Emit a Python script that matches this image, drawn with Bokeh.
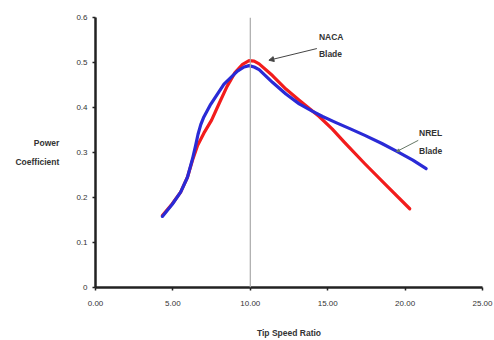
from bokeh.plotting import figure
from bokeh.models import Range1d, FixedTicker, Span, Label, Arrow, NormalHead
from bokeh.embed import file_html
from bokeh.resources import INLINE

# Tip speed ratio / power coefficient readings
naca_tsr = [4.32, 4.96, 5.50, 5.94, 6.26, 6.6, 7.0, 7.5, 8.0, 8.5, 9.0, 9.5, 9.92, 10.25, 10.57, 11.43, 12.3, 13.16, 14.45, 15.3, 16.1, 17.4, 18.9, 20.3]
naca_cp = [0.160, 0.186, 0.212, 0.245, 0.282, 0.316, 0.343, 0.372, 0.41, 0.447, 0.477, 0.496, 0.504, 0.503, 0.497, 0.471, 0.441, 0.416, 0.38, 0.352, 0.322, 0.275, 0.223, 0.175]

nrel_tsr = [4.32, 4.96, 5.50, 5.94, 6.26, 6.47, 6.62, 6.8, 7.0, 7.44, 8.3, 9.17, 9.6, 9.92, 10.25, 10.57, 11.43, 12.3, 13.16, 14.0, 14.67, 15.5, 16.5, 17.4, 18.5, 19.5, 20.5, 21.36]
nrel_cp = [0.158, 0.185, 0.212, 0.245, 0.285, 0.316, 0.34, 0.362, 0.379, 0.407, 0.452, 0.481, 0.49, 0.493, 0.49, 0.484, 0.456, 0.43, 0.408, 0.392, 0.38, 0.367, 0.352, 0.338, 0.32, 0.302, 0.283, 0.264]

x_ticks = [0, 5, 10, 15, 20, 25]
x_tick_labels = ["0.00", "5.00", "10.00", "15.00", "20.00", "25.00"]
y_ticks = [0, 0.1, 0.2, 0.3, 0.4, 0.5, 0.6]
y_tick_labels = ["0", "0.1", "0.2", "0.3", "0.4", "0.5", "0.6"]
peak_tsr = 10

FONT = "Liberation Sans"

p = figure(width=494, height=340, output_backend="svg", toolbar_location=None,
           x_range=Range1d(0, 25), y_range=Range1d(0, 0.6),
           min_border_left=95, min_border_right=12, min_border_top=17, min_border_bottom=53)
p.outline_line_color = None
p.grid.visible = False
p.background_fill_color = "white"

for ax in (p.xaxis, p.yaxis):
    ax.axis_line_color = "#222222"
    ax.axis_line_width = 2.5
    ax.major_tick_line_color = "#222222"
    ax.major_tick_line_width = 1.5
    ax.major_tick_out = 3
    ax.major_tick_in = 0
    ax.minor_tick_line_color = None
    ax.major_label_text_font = FONT
    ax.major_label_text_font_size = "8px"
    ax.major_label_text_color = "#333333"

p.xaxis.ticker = FixedTicker(ticks=x_ticks)
p.xaxis.major_label_overrides = {t: l for t, l in zip(x_ticks, x_tick_labels)}
p.yaxis.ticker = FixedTicker(ticks=y_ticks)
p.yaxis.major_label_overrides = {t: l for t, l in zip(y_ticks, y_tick_labels)}
p.xaxis.major_label_standoff = 10
p.yaxis.major_label_standoff = 5

p.xaxis.axis_label = "Tip Speed Ratio"
p.xaxis.axis_label_text_font = FONT
p.xaxis.axis_label_text_font_size = "8.5px"
p.xaxis.axis_label_text_font_style = "bold"
p.xaxis.axis_label_text_color = "#333333"
p.xaxis.axis_label_standoff = 19

yax = p.yaxis[0]
if "axis_label_orientation" in yax.properties():
    yax.axis_label = "Power\nCoefficient"
    yax.axis_label_orientation = "horizontal"
    yax.axis_label_text_font = FONT
    yax.axis_label_text_font_size = "8.5px"
    yax.axis_label_text_font_style = "bold"
    yax.axis_label_text_color = "#333333"
    yax.axis_label_standoff = 14
    yax.axis_label_text_align = "center"
    yax.axis_label_text_line_height = 1.9
else:
    for s, yy in (("Power", 192), ("Coefficient", 172)):
        p.add_layout(Label(x=45, y=yy, x_units="canvas", y_units="canvas", text=s,
                           text_font=FONT, text_font_size="8.5px", text_font_style="bold",
                           text_color="#333333", text_align="center", text_baseline="middle"))

p.add_layout(Span(location=peak_tsr, dimension="height", line_color="#aaaaaa", line_width=1.2))

p.line(naca_tsr, naca_cp, line_color="#f21c1c", line_width=3.2, line_join="round", line_cap="round")
p.line(nrel_tsr, nrel_cp, line_color="#2a2ad6", line_width=3.2, line_join="round", line_cap="round")

def txt(x, y, s, align="left"):
    p.add_layout(Label(x=x, y=y, text=s, text_font=FONT, text_font_size="8.5px",
                       text_font_style="bold", text_color="#333333",
                       text_align=align, text_baseline="middle"))

txt(14.43, 0.556, "NACA")
txt(14.43, 0.518, "Blade")
txt(20.9, 0.344, "NREL")
txt(20.9, 0.304, "Blade")

p.add_layout(Arrow(x_start=14.3, y_start=0.531, x_end=11.2, y_end=0.505,
                   line_color="#444444", line_width=1,
                   end=NormalHead(size=5, line_color="#444444", fill_color="#444444")))
p.add_layout(Arrow(x_start=20.85, y_start=0.327, x_end=19.45, y_end=0.302,
                   line_color="#667766", line_width=1,
                   end=NormalHead(size=3, line_color="#667766", fill_color="#667766")))

open("out.html", "w").write(file_html(p, INLINE))
